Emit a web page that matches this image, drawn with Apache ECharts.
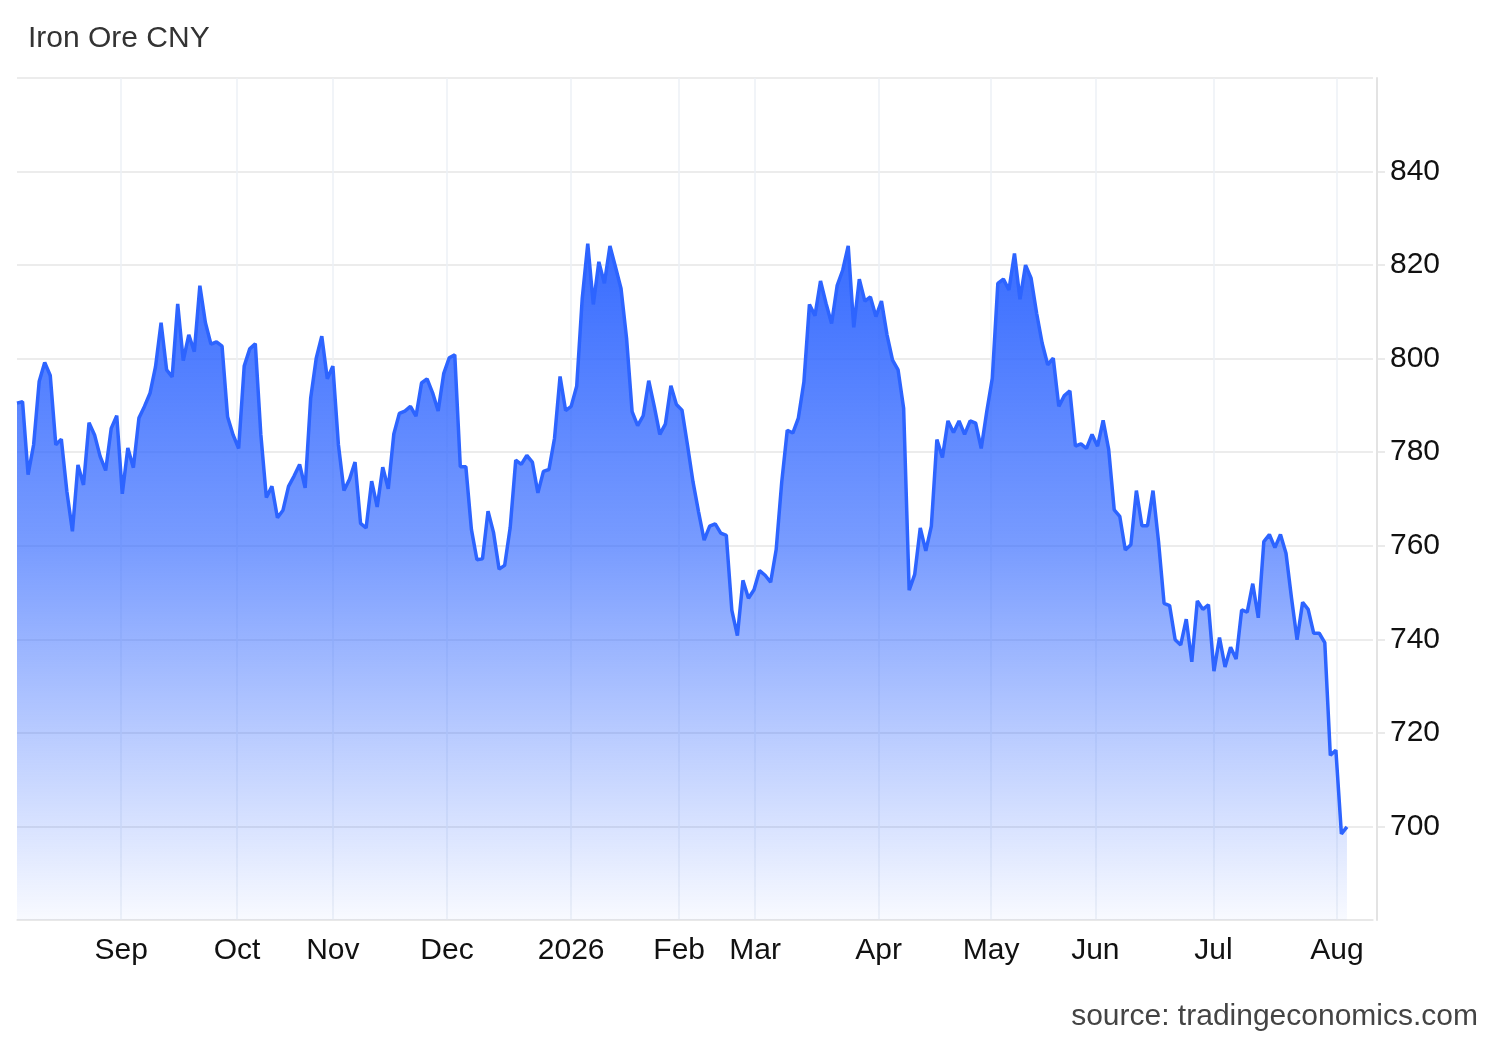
<!DOCTYPE html>
<html>
<head>
<meta charset="utf-8">
<title>Iron Ore CNY</title>
<script src="https://cdn.jsdelivr.net/npm/echarts@6/dist/echarts.min.js"></script>
<style>
  html, body { margin: 0; padding: 0; background: #fff; }
  #main { width: 1500px; height: 1040px; }
</style>
</head>
<body>
<div id="main"></div>
<script>
// daily closes, one per trading day (Aug 2025 -> Aug 2026)
var prices = [
  790.5, 790.8, 775.2, 781.6, 795.1, 799.2, 796.4, 781.6, 782.8, 771.6,
  763.1, 777.3, 773.0, 786.3, 783.7, 779.1, 776.1, 785.1, 787.8, 771.1,
  780.9, 776.7, 787.3, 789.8, 792.6, 798.3, 807.7, 797.6, 796.1, 811.7,
  799.6, 805.1, 801.5, 815.6, 807.7, 803.1, 803.6, 802.7, 787.6, 783.7,
  780.8, 798.4, 802.1, 803.2, 783.8, 770.3, 772.7, 766.0, 767.6, 772.7,
  774.9, 777.4, 772.4, 791.6, 800.1, 804.8, 795.7, 798.4, 781.6, 771.8,
  774.2, 777.9, 764.8, 763.8, 773.8, 768.3, 776.8, 772.2, 783.9, 788.3,
  788.8, 789.8, 787.7, 794.8, 795.7, 792.7, 788.8, 796.8, 800.2, 800.8,
  776.9, 776.9, 763.5, 757.0, 757.2, 767.4, 762.8, 755.0, 755.8, 763.9,
  778.3, 777.4, 779.3, 777.9, 771.3, 775.9, 776.3, 783.0, 796.2, 788.9,
  789.8, 794.1, 812.9, 824.6, 811.6, 820.7, 816.1, 824.1, 819.6, 815.0,
  804.4, 788.7, 785.7, 787.8, 795.3, 789.8, 783.8, 786.0, 794.2, 790.2,
  789.0, 781.5, 773.6, 767.2, 761.2, 764.2, 764.7, 762.7, 762.2, 746.2,
  740.8, 752.6, 748.8, 750.6, 754.7, 753.7, 752.2, 759.2, 773.6, 784.7,
  784.1, 787.3, 795.0, 811.6, 809.2, 816.6, 811.8, 807.5, 815.6, 818.9,
  824.1, 806.7, 817.0, 812.3, 813.2, 809.0, 812.3, 805.1, 799.7, 797.6,
  789.4, 750.5, 753.9, 763.8, 758.9, 764.2, 782.7, 778.9, 786.7, 784.2,
  786.7, 783.8, 786.7, 786.2, 780.8, 788.7, 795.8, 816.1, 817.0, 814.7,
  822.5, 812.7, 820.0, 817.2, 809.7, 803.3, 798.7, 800.1, 789.8, 792.1,
  793.1, 781.3, 781.8, 780.8, 783.8, 781.3, 786.8, 780.6, 767.7, 766.3,
  759.1, 760.2, 771.8, 764.3, 764.3, 771.8, 760.9, 747.7, 747.2, 739.9,
  738.8, 744.3, 735.2, 748.2, 746.4, 747.4, 733.2, 740.4, 734.1, 738.3,
  735.8, 746.3, 745.8, 751.9, 744.6, 760.9, 762.4, 759.6, 762.4, 758.4,
  748.8, 739.9, 747.9, 746.4, 741.3, 741.3, 739.3, 715.2, 716.3, 698.4,
  699.9
];

// month starts, as position on the trading-day index (holidays squeeze the spacing)
var monthTicks  = [18.8, 39.7, 57.0, 77.6, 100.0, 119.5, 133.2, 155.5, 175.8, 194.6, 215.9, 238.2];
var monthLabels = ['Sep', 'Oct', 'Nov', 'Dec', '2026', 'Feb', 'Mar', 'Apr', 'May', 'Jun', 'Jul', 'Aug'];

var yTicks = [680, 700, 720, 740, 760, 780, 800, 820, 840, 860];

var FONT = "'Liberation Sans', Arial, sans-serif";

var myChart = echarts.init(document.getElementById('main'));

myChart.setOption({
    animation: false,
    title: {
        text: 'Iron Ore CNY',
        left: 28,
        top: 24,
        padding: 0,
        textStyle: { fontFamily: FONT, fontSize: 30, fontWeight: 'normal', color: '#333' }
    },
    graphic: [{
        type: 'text',
        right: 22,
        top: 1002,
        style: {
            text: 'source: tradingeconomics.com',
            font: '30px ' + FONT,
            fill: '#444'
        }
    }],
    grid: { left: 17, right: 127, top: 78, bottom: 120 },
    xAxis: {
        type: 'value',
        min: 0,
        max: 244.7,
        axisLine: { show: true, onZero: false, lineStyle: { color: '#e6e6e6', width: 1.5 } },
        axisTick: { show: false, customValues: monthTicks },
        axisLabel: {
            customValues: monthTicks,
            margin: 16,
            fontFamily: FONT,
            fontSize: 30,
            color: '#111',
            formatter: function (v) {
                var i = monthTicks.indexOf(v);
                return i >= 0 ? monthLabels[i] : '';
            }
        },
        splitLine: { show: true, lineStyle: { color: '#edf1f6', width: 1.5 } }
    },
    yAxis: {
        type: 'value',
        position: 'right',
        offset: 4,
        min: yTicks[0],
        max: yTicks[yTicks.length - 1],
        interval: 20,
        axisLine: { show: true, onZero: false, lineStyle: { color: '#e3e3e3', width: 2 } },
        axisTick: { show: true, length: 8, lineStyle: { color: '#e3e3e3', width: 1.5 } },
        axisLabel: {
            margin: 13,
            fontFamily: FONT,
            fontSize: 30,
            color: '#111',
            showMinLabel: false,
            showMaxLabel: false
        },
        splitLine: { show: true, lineStyle: { color: '#e6e6e6', width: 1.5 } }
    },
    series: [{
        name: 'Iron Ore CNY',
        type: 'line',
        showSymbol: false,
        symbol: 'none',
        data: prices.map(function (v, i) { return [i, v]; }),
        lineStyle: { color: '#2d64ff', width: 3.5 },
        areaStyle: {
            opacity: 1,
            color: new echarts.graphic.LinearGradient(0, 0, 0, 1, [
                { offset: 0, color: 'rgba(45,100,255,0.95)' },
                { offset: 0.45, color: 'rgba(45,100,255,0.64)' },
                { offset: 1, color: 'rgba(45,100,255,0.03)' }
            ])
        }
    }]
});
</script>
</body>
</html>
